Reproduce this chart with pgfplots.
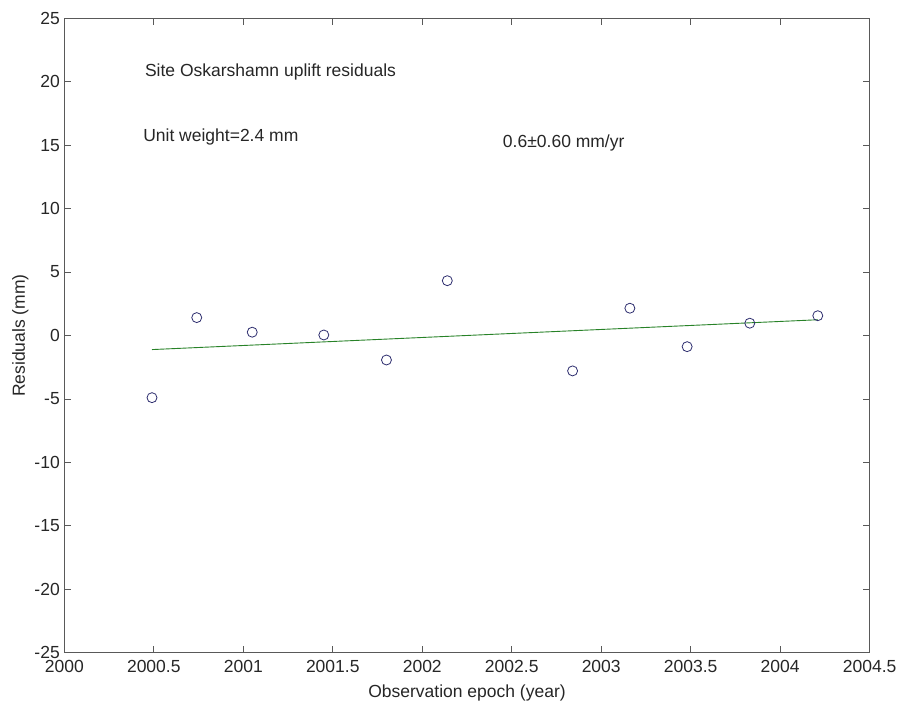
\documentclass[border=0pt]{standalone}
\usepackage{pgfplots}
\pgfplotsset{compat=1.18}
\usepackage{fontspec}
\setmainfont{Liberation Sans}
\definecolor{mkcol}{RGB}{45,45,110}
\definecolor{fitcol}{RGB}{40,130,40}
\begin{document}
\begin{tikzpicture}[x=1pt,y=1pt]
\useasboundingbox (0,0) rectangle (902,704);
\begin{axis}[
  at={(64.3pt,51.3pt)}, anchor=south west,
  scale only axis, width=805.4pt, height=634.4pt,
  xmin=2000, xmax=2004.5, ymin=-25, ymax=25,
  xtick={2000,2000.5,2001,2001.5,2002,2002.5,2003,2003.5,2004,2004.5},
  xticklabels={2000,2000.5,2001,2001.5,2002,2002.5,2003,2003.5,2004,2004.5},
  ytick={-25,-20,-15,-10,-5,0,5,10,15,20,25},
  yticklabels={-25,-20,-15,-10,-5,0,5,10,15,20,25},
  tick align=inside, major tick length=7pt,
  axis line style={black!65, line width=0.8pt},
  every tick/.style={black!65, line width=0.8pt},
  tick label style={font=\fontsize{17.5}{20}\selectfont, text=black!85},
  xticklabel style={yshift=-4pt},
  yticklabel style={xshift=-1pt},
  label style={font=\fontsize{17.5}{20}\selectfont, text=black!85},
  xlabel={Observation epoch (year)},
  ylabel={Residuals (mm)},
  xlabel style={at={(axis description cs:0.5,0)}, anchor=base, yshift=-44.3pt},
  ylabel style={at={(axis description cs:-0.0545,0.5)}, anchor=center},
  clip=false,
]
\addplot[fitcol, line width=0.9pt] coordinates {(2000.49,-1.11) (2004.21,1.24)};
\addplot[only marks, mark=o, mark size=5pt, mkcol, mark options={line width=0.8pt}] coordinates {
  (2000.49,-4.90)
  (2000.74,1.41)
  (2001.05,0.26)
  (2001.45,0.04)
  (2001.80,-1.93)
  (2002.14,4.32)
  (2002.84,-2.79)
  (2003.16,2.15)
  (2003.48,-0.88)
  (2003.83,0.97)
  (2004.21,1.56)
};
\node[anchor=west, font=\fontsize{17.5}{20}\selectfont, text=black!85, inner sep=0pt] at (axis cs:2000.45,20.8) {Site Oskarshamn uplift residuals};
\node[anchor=west, font=\fontsize{17.5}{20}\selectfont, text=black!85, inner sep=0pt] at (axis cs:2000.44,15.65) {Unit weight=2.4 mm};
\node[anchor=west, font=\fontsize{17.5}{20}\selectfont, text=black!85, inner sep=0pt] at (axis cs:2002.45,15.2) {0.6±0.60 mm/yr};
\end{axis}
\end{tikzpicture}
\end{document}
